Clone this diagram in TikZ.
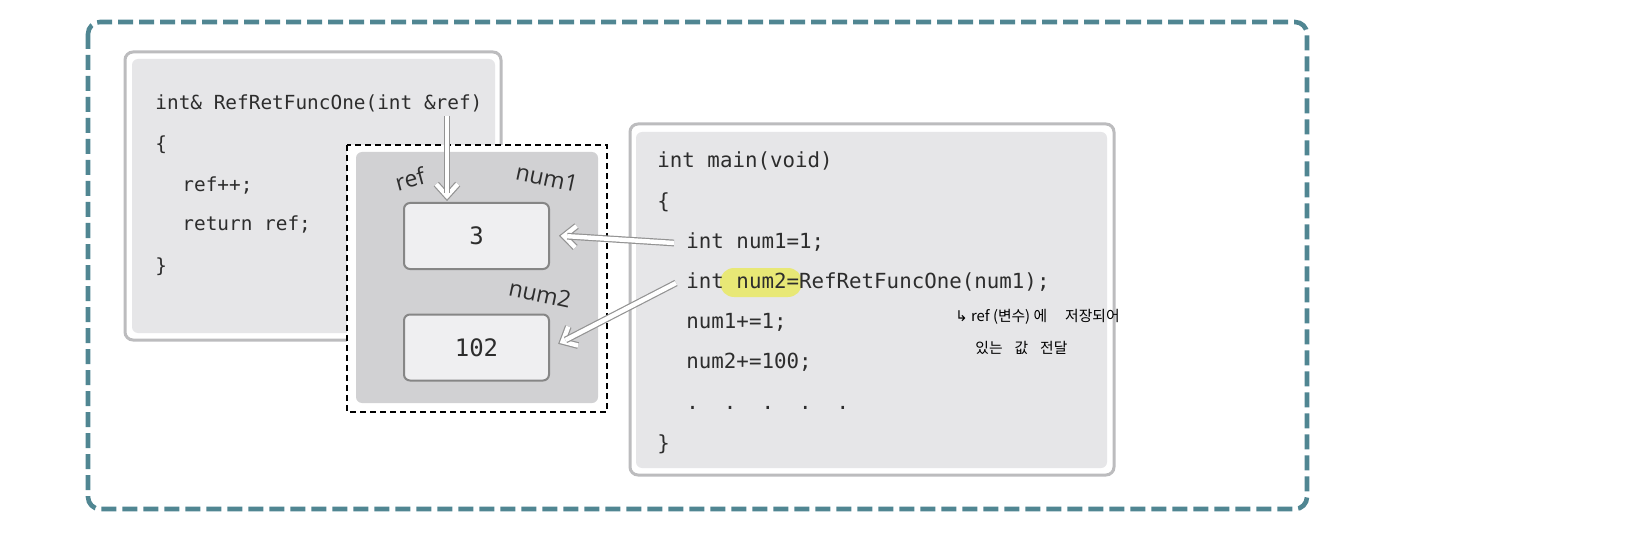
\documentclass[tikz,border=0pt]{standalone}
\usepackage{fontspec}
\setmonofont{DejaVu Sans Mono}
\newfontfamily\labelfont{Open Sans}
\newfontfamily\kofont{Noto Sans CJK KR}
\newfontfamily\symfont{DejaVu Sans}
\usetikzlibrary{calc}
\definecolor{frameteal}{RGB}{80,134,146}
\definecolor{codegray}{RGB}{230,230,232}
\definecolor{panelgray}{RGB}{188,188,190}
\definecolor{memgray}{RGB}{209,209,211}
\definecolor{cellgray}{RGB}{239,239,241}
\definecolor{hiyellow}{RGB}{232,232,118}
\definecolor{inkgray}{RGB}{45,45,45}
\newcommand{\hollowarrow}[2]{%
  \draw[hollow] ($(#2)!8pt!42:(#1)$) -- (#2) -- ($(#2)!8pt!-42:(#1)$);
  \draw[hollow] (#1) -- ($(#2)!1.6pt!(#1)$);}

\begin{document}
\begin{tikzpicture}[x=0.5pt,y=-0.5pt,
  code/.style={font=\ttfamily\fontsize{10.4pt}{12pt}\selectfont,text=inkgray,anchor=west,inner sep=0pt,text height=7.5pt,text depth=2pt},
  fcode/.style={code,font=\ttfamily\fontsize{9.7pt}{12pt}\selectfont},
  cell/.style={draw=gray!95,line width=1pt,fill=cellgray,rounded corners=3pt,minimum width=72.5pt,minimum height=33pt,font=\ttfamily\fontsize{12pt}{14pt}\selectfont,text=inkgray},
  varname/.style={font=\labelfont\fontsize{11.5pt}{13pt}\selectfont,text=inkgray,inner sep=0pt},
  hollow/.style={draw=gray!85,double=white,double distance=2.2pt,line width=0.6pt,line join=miter},
  note/.style={font=\kofont\fontsize{7.4pt}{9pt}\selectfont,text=black,anchor=west,inner sep=0pt}]
\useasboundingbox (0,0) rectangle (1640,535);
\draw[frameteal,line width=2.3pt,dash pattern=on 7.5pt off 3pt,rounded corners=6pt] (88,22) rectangle (1307,509);
\draw[panelgray,line width=1.5pt,fill=white,rounded corners=4pt] (125,52) rectangle (501,340);
\fill[codegray,rounded corners=3pt] (132,59) rectangle (495,333);
\node[fcode] (f1) at (155,104) {int\& RefRetFuncOne(int \&ref)};
\node[fcode] (f2) at (155,145) {\{};
\node[fcode] (f3) at (182,186) {ref++;};
\node[fcode] (f4) at (182,225) {return ref;};
\node[fcode] (f5) at (155,267) {\}};
\draw[dash pattern=on 3pt off 2pt,line width=0.6pt,fill=white] (347,145) rectangle (607,412);
\fill[memgray,rounded corners=3pt] (356,152) rectangle (598,403);
\node[cell] (c3) at (476.5,236) {3};
\node[cell] (c102) at (476.5,347.5) {102};
\node[varname,rotate=15] (vref) at (410,179) {ref};
\node[varname,rotate=-12] (vnum1) at (547,178) {num1};
\node[varname,rotate=-12] (vnum2) at (540,294) {num2};
\draw[panelgray,line width=1.5pt,fill=white,rounded corners=4pt] (630,124) rectangle (1114,475);
\fill[codegray,rounded corners=3pt] (636,132) rectangle (1107,468);
\fill[hiyellow,rounded corners=7pt] (720,268) rectangle (802,297);
\node[code] (m1) at (657,162) {int main(void)};
\node[code] (m2) at (657,203) {\{};
\node[code] (m3) at (686,243) {int num1=1;};
\node[code] (m4) at (686,283) {int num2=RefRetFuncOne(num1);};
\node[code] (m5) at (686,323) {num1+=1;};
\node[code] (m6) at (686,363) {num2+=100;};
\node[code] (m7) at (686,404) {.~~.~~.~~.~~.};
\node[code] (m8) at (657,445) {\}};
\coordinate (s1) at (447,116);
\coordinate (t1) at ([yshift=3pt]s1 |- c3.north);
\coordinate (s2) at ([xshift=-6pt]m3.west);
\coordinate (t2) at ([xshift=7pt]c3.east);
\coordinate (s3) at ([xshift=-5pt]m4.west);
\coordinate (t3) at ($(c102.east)!7pt!(m4.west)$);
\hollowarrow{s1}{t1}
\hollowarrow{s2}{t2}
\hollowarrow{s3}{t3}
\node[note] (n1) at (955,317) {{\symfont ↳} ref (변수) 에\hspace{9pt}저장되어};
\node[note] (n2) at (975,348) {있는\hspace{6pt}값\hspace{6pt}전달};
\end{tikzpicture}
\end{document}
